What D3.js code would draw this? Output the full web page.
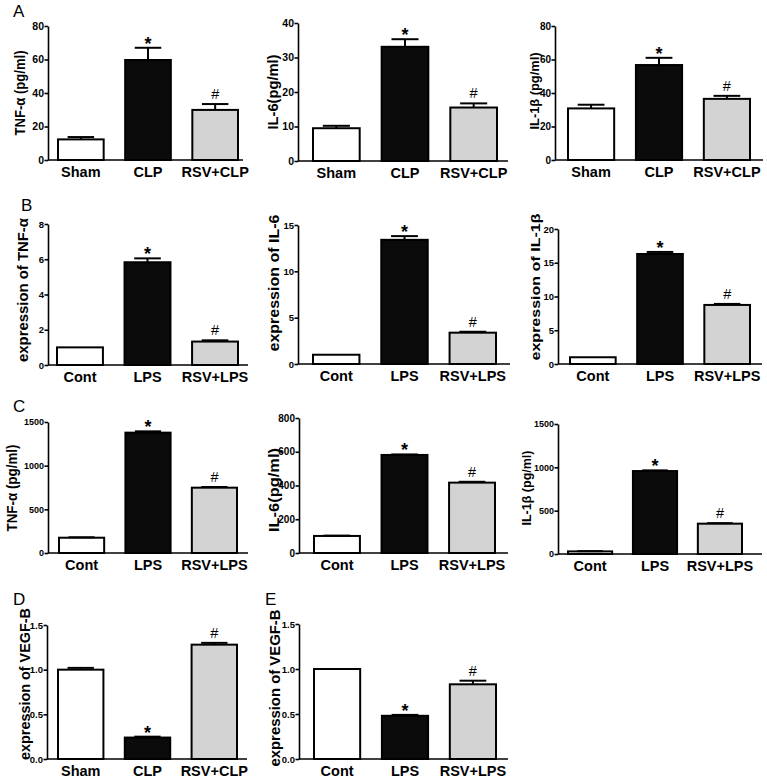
<!DOCTYPE html>
<html>
<head>
<meta charset="utf-8">
<script src="https://cdn.jsdelivr.net/npm/d3@7"></script>
<style>
  html, body { margin: 0; padding: 0; background: #fff; }
  svg { display: block; }
  text { font-family: "Liberation Sans", Arial, Helvetica, sans-serif; }
</style>
</head>
<body>
<svg id="fig" width="767" height="781"></svg>
<script>
// ---------------- data ----------------
const catsCLP = ["Sham", "CLP", "RSV+CLP"];
const catsLPS = ["Cont", "LPS", "RSV+LPS"];
const markers = ["", "*", "#"];

const tnfSerumMean = [12.3, 59.7, 29.9];
const tnfSerumSem  = [1.4, 7.3, 3.5];
const il6SerumMean = [9.5, 33.1, 15.5];
const il6SerumSem  = [0.7, 2.2, 1.2];
const il1bSerumMean = [30.8, 56.7, 36.5];
const il1bSerumSem  = [2.2, 4.3, 1.8];

const tnfMrnaMean = [1.0, 5.83, 1.33];
const tnfMrnaSem  = [0, 0.22, 0.07];
const il6MrnaMean = [1.0, 13.4, 3.38];
const il6MrnaSem  = [0, 0.4, 0.1];
const il1bMrnaMean = [1.0, 16.3, 8.75];
const il1bMrnaSem  = [0, 0.3, 0.15];

const tnfCellMean = [175, 1378, 748];
const tnfCellSem  = [5, 15, 8];
const il6CellMean = [101, 581, 417];
const il6CellSem  = [2, 3, 5];
const il1bCellMean = [30, 957, 350];
const il1bCellSem  = [3, 8, 6];

const vegfTissueMean = [1.0, 0.24, 1.28];
const vegfTissueSem  = [0.02, 0.01, 0.02];
const vegfCellMean = [1.0, 0.48, 0.83];
const vegfCellSem  = [0, 0.01, 0.04];

const ticksA1 = [0, 20, 40, 60, 80];
const ticksA2 = [0, 10, 20, 30, 40];
const ticksA3 = [0, 20, 40, 60, 80];
const ticksB1 = [0, 2, 4, 6, 8];
const ticksB2 = [0, 5, 10, 15];
const ticksB3 = [0, 5, 10, 15, 20];
const ticksC1 = [0, 500, 1000, 1500];
const ticksC2 = [0, 200, 400, 600, 800];
const ticksC3 = [0, 500, 1000, 1500];
const ticksDE = [0, 0.5, 1.0, 1.5];

// ---------------- styles ----------------
const barFills = ["#ffffff", "#0b0b0b", "#d3d3d3"];
const font = '"Liberation Sans", Arial, Helvetica, sans-serif';

// ---------------- layout ----------------
const panels = [
  {cats: catsCLP, mean: tnfSerumMean, sem: tnfSerumSem, ticks: ticksA1, fmt: d3.format("d"), label: "TNF-α (pg/ml)",
   L: {ax: 48, axEnd: 243, b0: 58, b1: 238, yTop: 26, y0: 160, lx: 20, ly: 93, ls: 14, ll: 85, tf: 10.5}},
  {cats: catsCLP, mean: il6SerumMean, sem: il6SerumSem, ticks: ticksA2, fmt: d3.format("d"), label: "IL-6(pg/ml)",
   L: {ax: 298, axEnd: 508, b0: 313, b1: 497, yTop: 23, y0: 161, lx: 273, ly: 92, ls: 14.5, ll: 75, tf: 10.5}},
  {cats: catsCLP, mean: il1bSerumMean, sem: il1bSerumSem, ticks: ticksA3, fmt: d3.format("d"), label: "IL-1β (pg/ml)",
   L: {ax: 555, axEnd: 763, b0: 568, b1: 750, yTop: 26, y0: 160, lx: 535, ly: 91, ls: 12, ll: 77, tf: 10}},
  {cats: catsLPS, mean: tnfMrnaMean, sem: tnfMrnaSem, ticks: ticksB1, fmt: d3.format("d"), label: "expression of TNF-α",
   L: {ax: 48, axEnd: 248, b0: 57, b1: 238, yTop: 224, y0: 365, lx: 23, ly: 290, ls: 14.5, ll: 144, tf: 9.5}},
  {cats: catsLPS, mean: il6MrnaMean, sem: il6MrnaSem, ticks: ticksB2, fmt: d3.format("d"), label: "expression of IL-6",
   L: {ax: 298, axEnd: 510, b0: 313, b1: 496, yTop: 225, y0: 364, lx: 274, ly: 283, ls: 15, ll: 137, tf: 9.5}},
  {cats: catsLPS, mean: il1bMrnaMean, sem: il1bMrnaSem, ticks: ticksB3, fmt: d3.format("d"), label: "expression of IL-1β",
   L: {ax: 558, axEnd: 762, b0: 570, b1: 750, yTop: 229, y0: 364, lx: 535, ly: 287, ls: 13.5, ll: 147, tf: 9.5}},
  {cats: catsLPS, mean: tnfCellMean, sem: tnfCellSem, ticks: ticksC1, fmt: d3.format("d"), label: "TNF-α (pg/ml)",
   L: {ax: 48, axEnd: 248, b0: 59, b1: 237, yTop: 422, y0: 553, lx: 12, ly: 488, ls: 14, ll: 87, tf: 9}},
  {cats: catsLPS, mean: il6CellMean, sem: il6CellSem, ticks: ticksC2, fmt: d3.format("d"), label: "IL-6(pg/ml)",
   L: {ax: 299, axEnd: 508, b0: 314, b1: 495, yTop: 418, y0: 553, lx: 274, ly: 490, ls: 14.5, ll: 84, tf: 10}},
  {cats: catsLPS, mean: il1bCellMean, sem: il1bCellSem, ticks: ticksC3, fmt: d3.format("d"), label: "IL-1β (pg/ml)",
   L: {ax: 558, axEnd: 762, b0: 568, b1: 742, yTop: 424, y0: 554, lx: 527, ly: 488, ls: 12, ll: 75, tf: 9}},
  {cats: catsCLP, mean: vegfTissueMean, sem: vegfTissueSem, ticks: ticksDE, fmt: d3.format(".1f"), label: "expression of VEGF-B",
   L: {ax: 47, axEnd: 247, b0: 58, b1: 237, yTop: 625, y0: 759, lx: 25, ly: 684, ls: 14, ll: 152, tf: 9.5}},
  {cats: catsLPS, mean: vegfCellMean, sem: vegfCellSem, ticks: ticksDE, fmt: d3.format(".1f"), label: "expression of VEGF-B",
   L: {ax: 299, axEnd: 508, b0: 314, b1: 496, yTop: 624, y0: 759, lx: 275, ly: 688, ls: 14.5, ll: 157, tf: 9.5}}
];

const letters = [
  {t: "A", x: 13, y: 17},
  {t: "B", x: 21, y: 211},
  {t: "C", x: 13, y: 412},
  {t: "D", x: 13, y: 605},
  {t: "E", x: 265, y: 605}
];

const svg = d3.select("#fig");
svg.append("rect").attr("width", 767).attr("height", 781).attr("fill", "#fff");

function drawPanel(p) {
  const L = p.L;
  const g = svg.append("g");
  const x = d3.scaleBand().domain(p.cats).range([L.b0, L.b1]).paddingInner(0.32).paddingOuter(0);
  const y = d3.scaleLinear().domain([0, d3.max(p.ticks)]).range([L.y0, L.yTop]);
  const bw = x.bandwidth();
  const rows = p.cats.map((c, i) => ({c, i, m: p.mean[i], s: p.sem[i]}));

  // bars
  g.selectAll("rect.bar").data(rows).join("rect")
    .attr("class", "bar")
    .attr("x", d => x(d.c))
    .attr("y", d => y(d.m))
    .attr("width", bw)
    .attr("height", d => y(0) - y(d.m))
    .attr("fill", d => barFills[d.i])
    .attr("stroke", "#000")
    .attr("stroke-width", 2);

  // error bars (upper only)
  const eb = rows.filter(d => d.s > 0);
  g.selectAll("line.err").data(eb).join("line")
    .attr("x1", d => x(d.c) + bw / 2).attr("x2", d => x(d.c) + bw / 2)
    .attr("y1", d => y(d.m)).attr("y2", d => y(d.m + d.s))
    .attr("stroke", "#000").attr("stroke-width", 2);
  g.selectAll("line.cap").data(eb).join("line")
    .attr("x1", d => x(d.c) + bw / 2 - bw * 0.29).attr("x2", d => x(d.c) + bw / 2 + bw * 0.29)
    .attr("y1", d => y(d.m + d.s)).attr("y2", d => y(d.m + d.s))
    .attr("stroke", "#000").attr("stroke-width", 2);

  // significance marks
  g.selectAll("text.mark").data(rows.filter(d => markers[d.i])).join("text")
    .attr("x", d => x(d.c) + bw / 2)
    .attr("y", d => markers[d.i] === "*" ? y(d.m + d.s) + 2 : y(d.m + d.s) - 5)
    .attr("text-anchor", "middle")
    .attr("font-size", d => markers[d.i] === "*" ? 18 : 14.5)
    .attr("font-weight", d => markers[d.i] === "*" ? "bold" : "normal")
    .attr("fill", "#000")
    .text(d => markers[d.i]);

  // y axis
  const ya = g.append("g").attr("transform", `translate(${L.ax},0)`)
    .call(d3.axisLeft(y).tickValues(p.ticks).tickFormat(p.fmt).tickSize(3.5).tickSizeOuter(0).tickPadding(0.5));
  ya.select(".domain").attr("stroke", "#000").attr("stroke-width", 1.6);
  ya.selectAll(".tick line").attr("stroke", "#000").attr("stroke-width", 1.6);
  ya.selectAll(".tick text").attr("font-family", font).attr("font-weight", "bold")
    .attr("font-size", L.tf).attr("fill", "#000");

  // x axis line
  g.append("line").attr("x1", L.ax).attr("x2", L.axEnd).attr("y1", y(0)).attr("y2", y(0))
    .attr("stroke", "#000").attr("stroke-width", 1.6);

  // category labels
  const xa = g.append("g").attr("transform", `translate(0,${y(0)})`)
    .call(d3.axisBottom(x).tickSize(0).tickPadding(7));
  xa.select(".domain").remove();
  xa.selectAll(".tick text").attr("font-family", font).attr("font-weight", "bold")
    .attr("font-size", 14.5).attr("fill", "#000");

  // y label
  g.append("text")
    .attr("transform", `translate(${L.lx},${L.ly}) rotate(-90)`)
    .attr("text-anchor", "middle")
    .attr("dy", "0.35em")
    .attr("font-size", L.ls)
    .attr("font-weight", "bold")
    .attr("textLength", L.ll)
    .attr("lengthAdjust", "spacingAndGlyphs")
    .attr("fill", "#000")
    .text(p.label);
}

panels.forEach(drawPanel);

svg.selectAll("text.letter").data(letters).join("text")
  .attr("class", "letter")
  .attr("x", d => d.x).attr("y", d => d.y)
  .attr("font-size", 17)
  .attr("fill", "#000")
  .text(d => d.t);
</script>
</body>
</html>
